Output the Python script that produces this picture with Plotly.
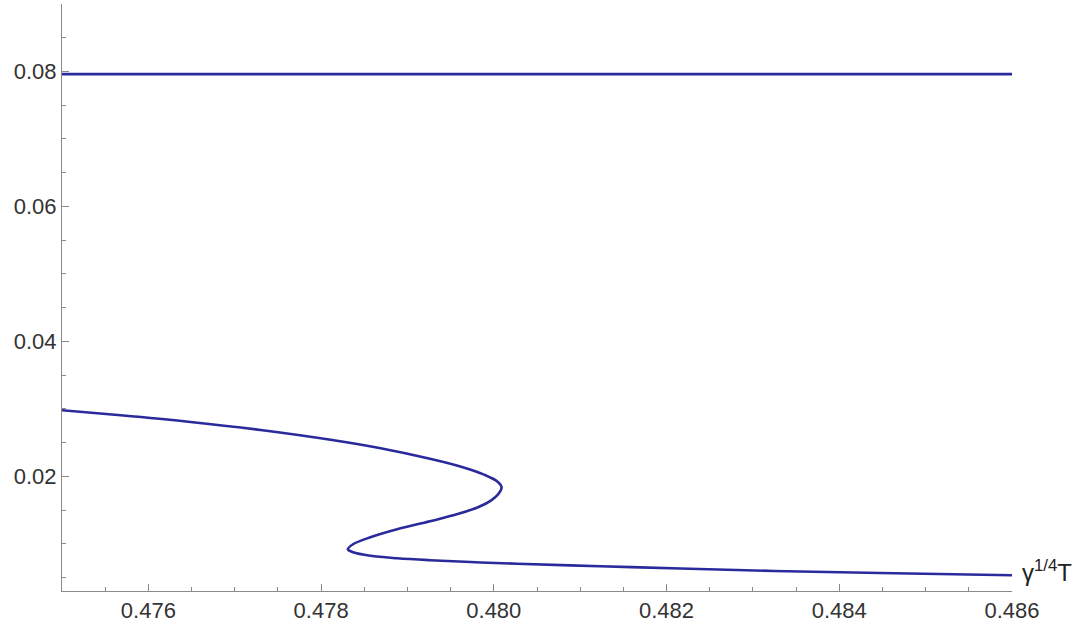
import plotly.graph_objects as go

# Upper (flat) branch
flat_x = [0.475, 0.486]
flat_y = [0.0796, 0.0796]

# S-shaped branch, traced from the upper-left end to the lower-right end
s_x = [0.47500, 0.47568, 0.47646, 0.47730, 0.47811, 0.47869, 0.47926, 0.47965,
       0.47988, 0.48004, 0.48009, 0.48005, 0.47997, 0.47983, 0.47959, 0.47926,
       0.47888, 0.47857, 0.47837, 0.47831, 0.47837, 0.47857, 0.47888, 0.47926,
       0.47973, 0.48027, 0.48123, 0.48216, 0.48324, 0.48447, 0.48600]
s_y = [0.02978, 0.02904, 0.02809, 0.02686, 0.02541, 0.02415, 0.02259, 0.02132,
       0.02028, 0.01924, 0.01837, 0.01733, 0.01644, 0.01548, 0.01444, 0.01333,
       0.01215, 0.01096, 0.00993, 0.00919, 0.00874, 0.00822, 0.00785, 0.00756,
       0.00729, 0.00704, 0.00667, 0.00633, 0.00597, 0.00566, 0.00533]

x_ticks = [0.476, 0.478, 0.480, 0.482, 0.484, 0.486]
x_ticklabels = ["0.476", "0.478", "0.480", "0.482", "0.484", "0.486"]
y_ticks = [0.02, 0.04, 0.06, 0.08]
y_ticklabels = ["0.02", "0.04", "0.06", "0.08"]

LINE = "#2a2a9c"
AXIS = "#8a8a8a"
FONT = "Liberation Sans, Arial, sans-serif"

fig = go.Figure()
fig.add_trace(go.Scatter(x=flat_x, y=flat_y, mode="lines",
                         line=dict(color=LINE, width=2.6), showlegend=False))
fig.add_trace(go.Scatter(x=s_x, y=s_y, mode="lines",
                         line=dict(color=LINE, width=2.6, shape="spline", smoothing=1.0),
                         showlegend=False))

fig.update_layout(
    width=1084, height=624,
    margin=dict(l=62, r=72, t=4, b=33),
    paper_bgcolor="white", plot_bgcolor="white",
    font=dict(family=FONT, size=22, color="#333333"),
    xaxis=dict(
        range=[0.475, 0.486], showgrid=False, zeroline=False,
        showline=True, linecolor=AXIS, linewidth=1,
        tickvals=x_ticks, ticktext=x_ticklabels,
        ticks="inside", ticklen=7, tickcolor=AXIS, tickwidth=1,
        minor=dict(tick0=0.475, dtick=0.0005, ticks="inside", ticklen=4,
                   tickcolor=AXIS, tickwidth=1, showgrid=False),
        automargin=False,
    ),
    yaxis=dict(
        range=[0.003, 0.090], showgrid=False, zeroline=False,
        showline=True, linecolor=AXIS, linewidth=1,
        tickvals=y_ticks, ticktext=y_ticklabels,
        ticks="inside", ticklen=7, tickcolor=AXIS, tickwidth=1,
        minor=dict(tick0=0.0, dtick=0.005, ticks="inside", ticklen=4,
                   tickcolor=AXIS, tickwidth=1, showgrid=False),
        automargin=False,
    ),
)

fig.add_annotation(
    text="γ<sup>1/4</sup>T", xref="x", x=0.486, yref="paper", y=0,
    xanchor="left", yanchor="middle", xshift=8, yshift=20,
    showarrow=False, font=dict(family=FONT, size=24, color="#222222"),
)

fig.write_html("out.html")
